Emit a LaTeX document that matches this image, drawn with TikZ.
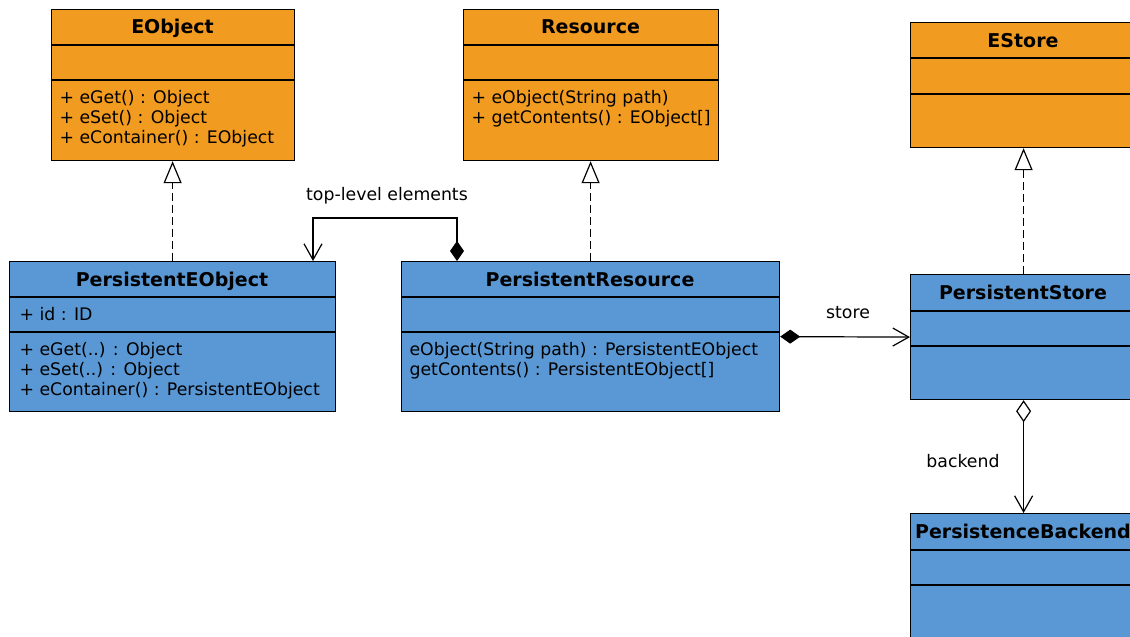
\documentclass[tikz,border=0pt]{standalone}
\usepackage{fontspec}
\setmainfont{DejaVu Sans}
\usetikzlibrary{arrows.meta}
\definecolor{classorange}{RGB}{241,155,32}
\definecolor{classblue}{RGB}{89,152,212}

\begin{document}
\begin{tikzpicture}[x=1pt, y=-1pt, line width=1.2pt,
  font=\fontsize{17.3}{20}\selectfont,
  box/.style={draw, inner sep=0, anchor=north west},
  title/.style={anchor=base, font=\fontsize{19}{22}\selectfont\bfseries},
  members/.style={anchor=north west, inner sep=0, align=left},
  realize/.style={dash pattern=on 8pt off 4pt, -{Triangle[open, fill=white, length=22pt, width=18pt]}},
  compose/.style={{Diamond[length=20pt, width=14pt]}-{Straight Barb[length=16pt, width=18pt]}},
  aggregate/.style={{Diamond[open, fill=white, length=22pt, width=15pt]}-{Straight Barb[length=16pt, width=18pt]}}]

  \useasboundingbox (0,0) rectangle (1130,637);
  \clip (0,0) rectangle (1130,637);

  %Interfaces
  \node[box, fill=classorange, minimum width=243pt, minimum height=151pt] (eobject) at (51,9) {};
  \draw (51,45) -- (294,45) (51,80) -- (294,80);
  \node[title] (eobject-title) at (172.5,34) {EObject};
  \node[members] (eobject-ops) at (59,90) {+ eGet() : Object\\+ eSet() : Object\\+ eContainer() : EObject};

  \node[box, fill=classorange, minimum width=255pt, minimum height=151pt] (resource) at (463,9) {};
  \draw (463,45) -- (718,45) (463,80) -- (718,80);
  \node[title] (resource-title) at (590.5,34) {Resource};
  \node[members] (resource-ops) at (471,90) {+ eObject(String path)\\+ getContents() : EObject[]};

  \node[box, fill=classorange, minimum width=226pt, minimum height=125pt] (estore) at (910,22) {};
  \draw (910,58) -- (1136,58) (910,94) -- (1136,94);
  \node[title] (estore-title) at (1023,47) {EStore};

  %Implementations
  \node[box, fill=classblue, minimum width=326pt, minimum height=150pt] (peobject) at (9,261) {};
  \draw (9,297) -- (335,297) (9,332) -- (335,332);
  \node[title] (peobject-title) at (172,286) {PersistentEObject};
  \node[members] (peobject-attr) at (19,307) {+ id : ID};
  \node[members] (peobject-ops) at (19,342) {+ eGet(..) : Object\\+ eSet(..) : Object\\+ eContainer() : PersistentEObject};

  \node[box, fill=classblue, minimum width=378pt, minimum height=150pt] (presource) at (401,261) {};
  \draw (401,297) -- (779,297) (401,332) -- (779,332);
  \node[title] (presource-title) at (590,286) {PersistentResource};
  \node[members] (presource-ops) at (409,342) {eObject(String path) : PersistentEObject\\getContents() : PersistentEObject[]};

  \node[box, fill=classblue, minimum width=226pt, minimum height=125pt] (pstore) at (910,274) {};
  \draw (910,311) -- (1136,311) (910,346) -- (1136,346);
  \node[title] (pstore-title) at (1023,299) {PersistentStore};

  \node[box, fill=classblue, minimum width=226pt, minimum height=160pt] (pbackend) at (910,513) {};
  \draw (910,550) -- (1136,550) (910,585) -- (1136,585);
  \node[title] (pbackend-title) at (1023,538) {PersistenceBackend};

  %Realizations
  \draw[realize] (peobject.north) -- (peobject.north |- eobject.south);
  \draw[realize] (presource.north) -- (presource.north |- resource.south);
  \draw[realize] (pstore.north) -- (estore.south);

  %Associations
  \coordinate (toplevel-start) at (457,261);
  \coordinate (toplevel-end) at (313,261);
  \draw[compose] (toplevel-start) -- ++(0,-43) -| (toplevel-end);
  \node[anchor=base] (toplevel-label) at (387,200) {top-level elements};

  \draw[compose] (presource.east) -- (pstore.west);
  \node (store-label) at (848,313) {store};

  \draw[aggregate] (pstore.south) -- (pbackend.north);
  \node (backend-label) at (963,461) {backend};
\end{tikzpicture}
\end{document}
